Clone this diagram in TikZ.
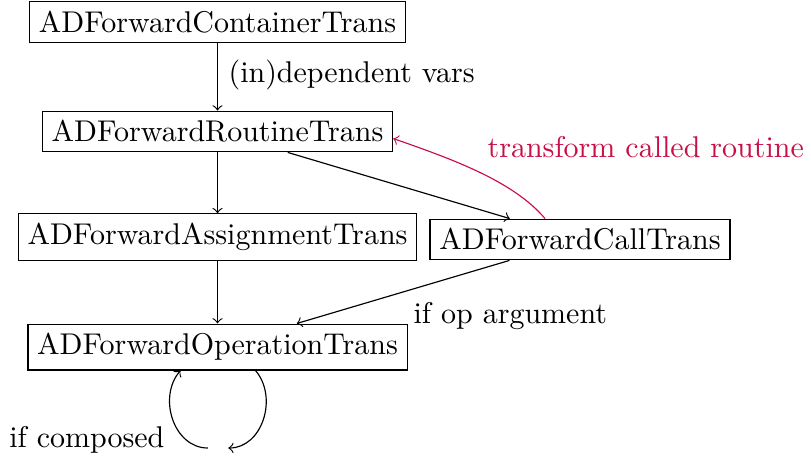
\documentclass[tikz,border=0pt]{standalone}
\usetikzlibrary{calc}
\definecolor{routred}{RGB}{200,16,72}
\begin{document}
\begin{tikzpicture}[x=0.345pt,y=-0.345pt,
  every node/.style={font=\fontsize{10.35}{12.4}\selectfont},
  box/.style={draw, inner sep=3.2pt},
  arr/.style={->},
  lbl/.style={inner sep=0pt}]
\useasboundingbox (0,0) rectangle (811,466);
\node[box] (cont) at (217.5,22) {ADForwardContainerTrans};
\node[box] (rout) at (217.5,131.5) {ADForwardRoutineTrans};
\node[box] (assign) at (217.5,237) {ADForwardAssignmentTrans};
\node[box] (call) at (580,239.5) {ADForwardCallTrans};
\node[box] (op) at (217.5,347) {ADForwardOperationTrans};
\node[inner sep=3.33pt] (loop) at (218,448) {};

\draw[arr] (cont) -- (rout);
\draw[arr] (rout) -- (assign);
\draw[arr] (rout) -- (call);
\draw[arr] (assign) -- (op);
\draw[arr] (call) -- (op);
\draw[arr] ($(op.south)+(38,0)$) .. controls +(23,27) and +(34,0) .. (loop.east);
\draw[arr] (loop.west) .. controls +(-34,0) and +(-23,27) .. ($(op.south)+(-37,0)$);
\draw[arr, routred] ($(call.north)+(-35,0)$) .. controls +(-32,-38) and +(57,20) .. ($(rout.east)+(0,7)$);

\node[lbl, anchor=west] (l1) at (228,75) {(in)dependent vars};
\node[lbl, anchor=west] (l2) at (413,316) {if op argument};
\node[lbl, anchor=west, text=routred] (l3) at (487,147) {transform called routine};
\node[lbl, anchor=east] (l4) at (165,440) {if composed};
\end{tikzpicture}
\end{document}
